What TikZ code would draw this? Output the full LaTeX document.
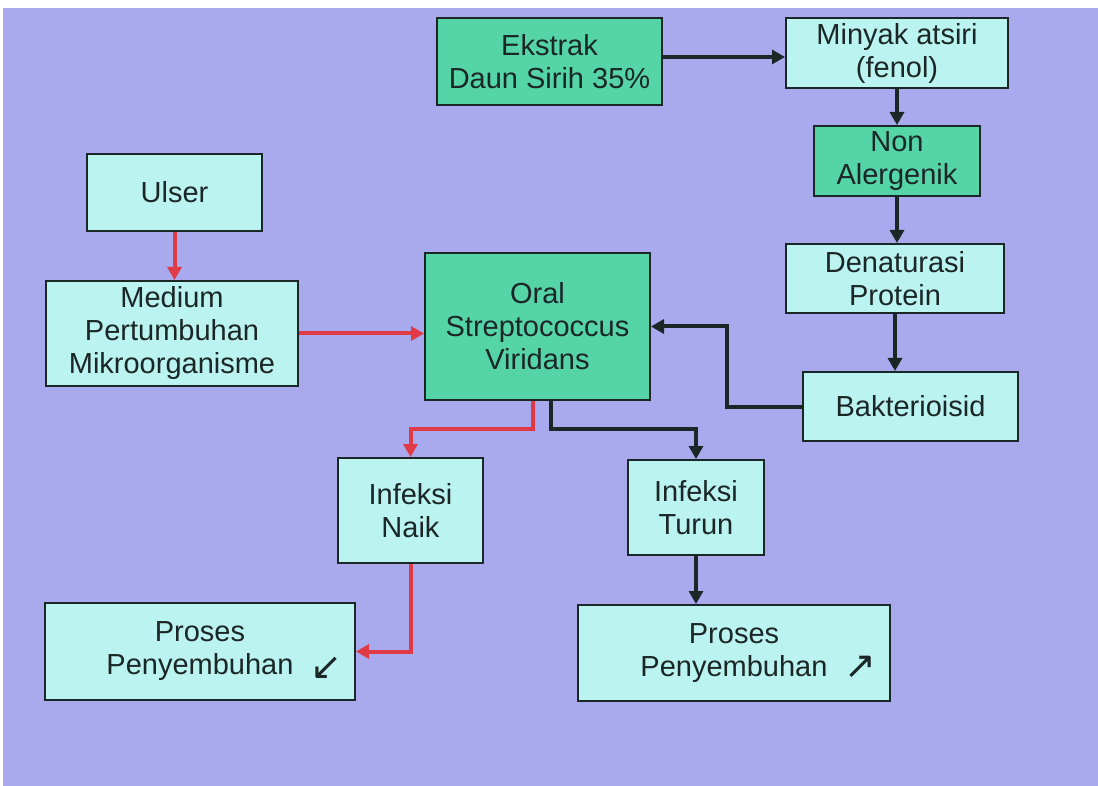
\documentclass[tikz,border=0pt]{standalone}
\usepackage{fontspec}
\setmainfont{Liberation Sans}
\newfontfamily\symbfont{DejaVu Sans}
\usetikzlibrary{arrows.meta}
\definecolor{bgpurple}{HTML}{A9A9EE}
\definecolor{boxcyan}{HTML}{BBF3F0}
\definecolor{boxgreen}{HTML}{55D4A8}
\definecolor{linkred}{HTML}{E03A46}
\definecolor{inkdark}{HTML}{1B2626}
\begin{document}
\begin{tikzpicture}[x=0.5pt,y=-0.5pt,
  boxsize/.style 2 args={minimum width=#1*0.5pt,minimum height=#2*0.5pt},
  cyanbox/.style={draw=inkdark,line width=1pt,fill=boxcyan,inner sep=0pt,
    align=center,text=inkdark,font=\fontsize{14.5}{16.5}\selectfont},
  greenbox/.style={cyanbox,fill=boxgreen},
  blackarrow/.style={draw=inkdark,line width=2pt,-{Triangle[length=6.5pt,width=7pt]}},
  redarrow/.style={blackarrow,draw=linkred},
  signtext/.style={text=inkdark,inner sep=0pt,font=\symbfont\fontsize{19}{20}\selectfont}]
\useasboundingbox (0,0) rectangle (1098,786);
\fill[white] (0,0) rectangle (1098,786);
\fill[bgpurple] (3,8) rectangle (1098,786);

% right column
\node[greenbox,boxsize={225}{87}] (ekstrak) at (549.5,61.5) {Ekstrak\\Daun Sirih 35\%};
\node[cyanbox,boxsize={222}{70}] (minyak) at (897,53) {Minyak atsiri\\(fenol)};
\node[greenbox,boxsize={166}{70}] (nonalergi) at (897,161) {Non\\Alergenik};
\node[cyanbox,boxsize={218}{69}] (denaturasi) at (895,278.5) {Denaturasi\\Protein};
\node[cyanbox,boxsize={215}{69}] (bakteri) at (910.5,406.5) {Bakterioisid};

% centre and left
\node[greenbox,boxsize={225}{147}] (oral) at (537.5,326.5) {Oral\\Streptococcus\\Viridans};
\node[cyanbox,boxsize={175}{77}] (ulser) at (174.5,192.5) {Ulser};
\node[cyanbox,boxsize={252}{105}] (medium) at (172,333.5) {Medium\\Pertumbuhan\\Mikroorganisme};

% bottom row
\node[cyanbox,boxsize={145}{105}] (naik) at (410.5,510.5) {Infeksi\\Naik};
\node[cyanbox,boxsize={136}{95}] (turun) at (696,507.5) {Infeksi\\Turun};
\node[cyanbox,boxsize={310}{97}] (prosesL) at (200,651.5) {Proses\\Penyembuhan};
\node[cyanbox,boxsize={312}{96}] (prosesR) at (734,653) {Proses\\Penyembuhan};
\node[signtext] (turunsign) at (326,668) {↙};
\node[signtext] (naiksign) at (860,667) {↗};

% connectors
\draw[blackarrow] ([yshift=2.25pt]ekstrak.east) -- ([yshift=2.25pt]ekstrak.east -| minyak.west);
\draw[blackarrow] (minyak.south) -- (nonalergi.north);
\draw[blackarrow] (nonalergi.south) -- (nonalergi.south |- denaturasi.north);
\draw[blackarrow] (denaturasi.south) -- (denaturasi.south |- bakteri.north);
\draw[blackarrow] (bakteri.west) -- ++(-75,0) |- (oral.east);
\draw[redarrow] (ulser.south) -- (ulser.south |- medium.north);
\draw[redarrow] (medium.east) -- (medium.east -| oral.west);
\draw[redarrow] ([xshift=-2.25pt]oral.south) -- ++(0,28) -| (naik.north);
\draw[blackarrow] ([xshift=6.75pt]oral.south) -- ++(0,28) -| (turun.north);
\draw[redarrow] (naik.south) |- (prosesL.east);
\draw[blackarrow] (turun.south) -- (turun.south |- prosesR.north);
\end{tikzpicture}
\end{document}
